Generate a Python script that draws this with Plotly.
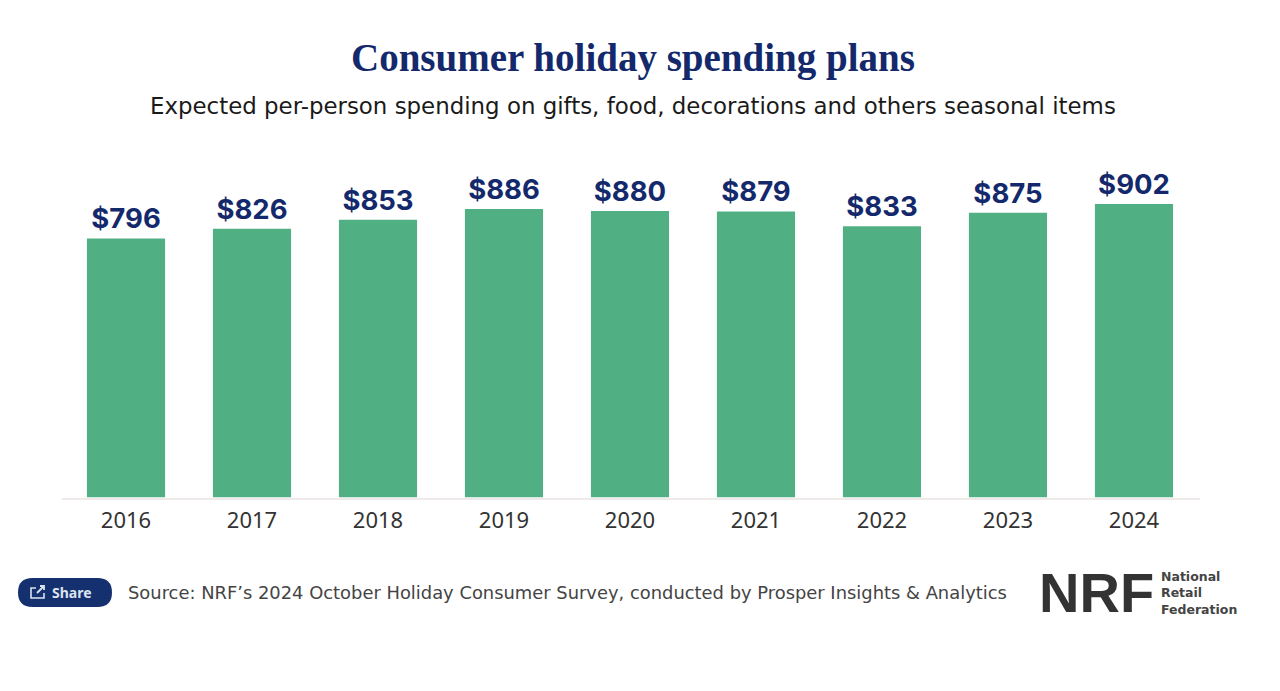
import plotly.graph_objects as go

OFF = 8  # the page's own margin round the figure
W, H = 1280 - 2 * OFF, 691 - 2 * OFF
years = ["2016", "2017", "2018", "2019", "2020", "2021", "2022", "2023", "2024"]
spending = [796, 826, 853, 886, 880, 879, 833, 875, 902]
labels = ["$796", "$826", "$853", "$886", "$880", "$879", "$833", "$875", "$902"]

TITLE = "Consumer holiday spending plans"
SUBTITLE = "Expected per-person spending on gifts, food, decorations and others seasonal items"
SOURCE = "Source: NRF’s 2024 October Holiday Consumer Survey, conducted by Prosper Insights &amp; Analytics"

NAVY = "#14296b"
GREEN = "#50b083"

fig = go.Figure(go.Bar(
    x=list(range(len(years))), y=spending, width=0.62,
    marker=dict(color=GREEN, line=dict(width=0)),
    text=labels, textposition="outside", cliponaxis=False,
    textfont=dict(family="Inter", size=27.5, color=NAVY, weight=700),
    hoverinfo="skip",
))

def px(x): return (x - OFF) / W
def py(y): return 1 - (y - OFF) / H

fig.update_layout(
    width=W, height=H, margin=dict(l=0, r=0, t=0, b=0),
    paper_bgcolor="white", plot_bgcolor="white", showlegend=False,
    xaxis=dict(domain=[px(62), px(1200)], range=[-0.508, 8.524],
               tickmode="array", tickvals=list(range(len(years))), ticktext=years,
               tickfont=dict(family="Noto Sans", size=22, color="#333333"),
               ticks="", ticklen=0, ticklabelstandoff=2, showgrid=False, zeroline=False,
               showline=True, linecolor="#eeeaea", linewidth=2),
    yaxis=dict(domain=[py(497.5), py(172)], range=[0, 1000], visible=False),
)

def label(x, y, text, size, color, family, anchor="left", weight=400):
    fig.add_annotation(xref="paper", yref="paper", x=px(x), y=py(y),
                       text=text, showarrow=False, xanchor=anchor, yanchor="middle",
                       align="left" if anchor == "left" else "center",
                       borderpad=0, borderwidth=0,
                       font=dict(family=family, size=size, color=color, weight=weight))

label(632.5, 58, TITLE, 39, NAVY, "Liberation Serif", "center", 700)
label(632.5, 106, SUBTITLE, 22.9, "#1a1a1a", "DejaVu Sans", "center")
label(128, 592, SOURCE, 17.9, "#444444", "DejaVu Sans")
label(52, 592.5, "Share", 14, "#dbe3f0", "Noto Sans", weight=700)
label(1039, 592, "NRF", 56, "#333333", "Liberation Sans", weight=700)
label(1161, 592.5, "National<br>Retail<br>Federation", 12.5, "#444444", "DejaVu Sans", weight=700)

# Share button and its icon
r = 14.5
x0, x1, y0, y1 = 18, 112, 578, 607
fig.add_shape(type="path", xref="paper", yref="paper", layer="below",
              fillcolor="#14306f", line=dict(width=0),
              path=(f"M {px(x0+r)} {py(y0)} L {px(x1-r)} {py(y0)} "
                    f"Q {px(x1)} {py(y0)} {px(x1)} {py(y0+r)} "
                    f"Q {px(x1)} {py(y1)} {px(x1-r)} {py(y1)} "
                    f"L {px(x0+r)} {py(y1)} "
                    f"Q {px(x0)} {py(y1)} {px(x0)} {py(y0+r)} "
                    f"Q {px(x0)} {py(y0)} {px(x0+r)} {py(y0)} Z"))
fig.add_shape(type="path", xref="paper", yref="paper", layer="above",
              line=dict(color="#dbe3f0", width=1.6),
              path=(f"M {px(36)} {py(588)} L {px(31)} {py(588)} L {px(31)} {py(598)} "
                    f"L {px(44)} {py(598)} L {px(44)} {py(593)}"))
fig.add_shape(type="path", xref="paper", yref="paper", layer="above",
              line=dict(color="#dbe3f0", width=1.8),
              path=(f"M {px(37)} {py(593)} L {px(44)} {py(586)} M {px(40)} {py(586)} L {px(44)} {py(586)} L {px(44)} {py(590)}"))

fig.write_html("out.html")
